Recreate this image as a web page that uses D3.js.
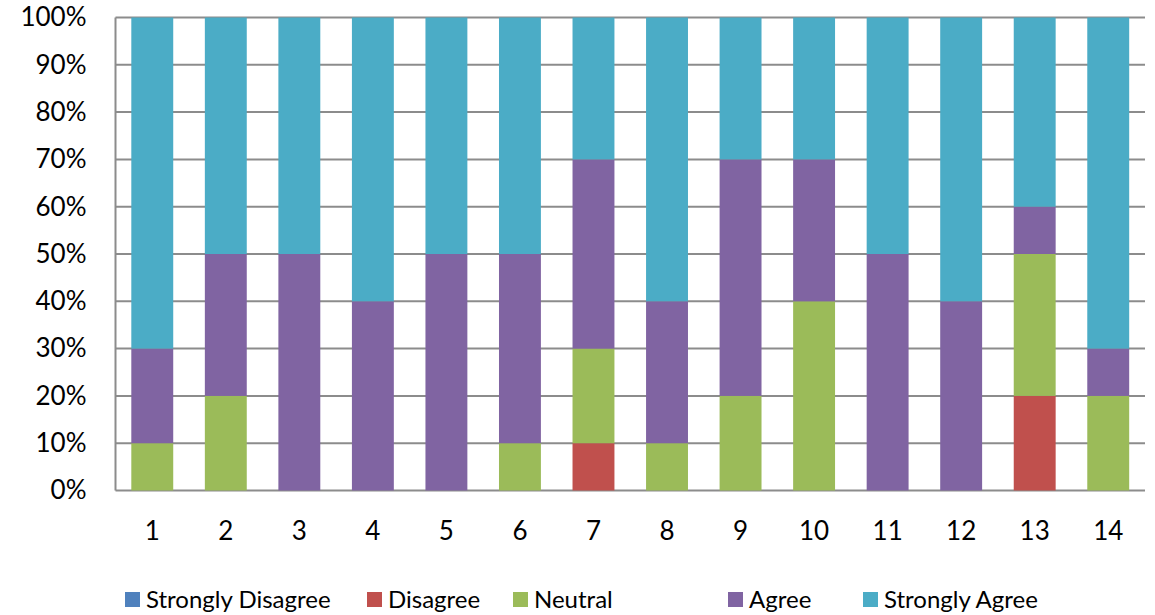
<!DOCTYPE html>
<html>
<head>
<meta charset="utf-8">
<script src="https://cdn.jsdelivr.net/npm/d3@7"></script>
<style>
  html, body { margin: 0; padding: 0; background: #fff; }
  svg text { font-family: Lato, "Open Sans", sans-serif; fill: #000; }
</style>
</head>
<body>
<svg id="chart" width="1155" height="615"></svg>
<script>
// Survey items 1..14, share of responses (percent) per answer level
const items = ["1","2","3","4","5","6","7","8","9","10","11","12","13","14"];
const seriesNames = ["Strongly Disagree", "Disagree", "Neutral", "Agree", "Strongly Agree"];
const stronglyDisagree = [0, 0, 0, 0, 0, 0, 0, 0, 0, 0, 0, 0, 0, 0];
const disagree         = [0, 0, 0, 0, 0, 0, 10, 0, 0, 0, 0, 0, 20, 0];
const neutral          = [10, 20, 0, 0, 0, 10, 20, 10, 20, 40, 0, 0, 30, 20];
const agree            = [20, 30, 50, 40, 50, 40, 40, 30, 50, 30, 50, 40, 10, 10];
const stronglyAgree    = [70, 50, 50, 60, 50, 50, 30, 60, 30, 30, 50, 60, 40, 70];
const yTicks = [0, 10, 20, 30, 40, 50, 60, 70, 80, 90, 100];
const colors = ["#4F81BD", "#C0504D", "#9BBB59", "#8064A2", "#4BACC6"];

const allSeries = [stronglyDisagree, disagree, neutral, agree, stronglyAgree];
const rows = items.map((it, i) => {
  const r = { item: it };
  seriesNames.forEach((s, k) => { r[s] = allSeries[k][i]; });
  return r;
});

const svg = d3.select("#chart");
const margin = { left: 115.5, right: 10, top: 17.5, bottom: 124.5 };
const W = 1155, H = 615;
const x = d3.scaleBand().domain(items).range([margin.left, W - margin.right]).paddingInner(0.43).paddingOuter(0.215);
const y = d3.scaleLinear().domain([0, 100]).range([H - margin.bottom, margin.top]);

// horizontal gridlines
svg.append("g").selectAll("line").data(yTicks).join("line")
  .attr("x1", margin.left).attr("x2", W - margin.right)
  .attr("y1", d => y(d)).attr("y2", d => y(d))
  .attr("stroke", "#8c8c8c").attr("stroke-width", 2);

// stacked bars
const stack = d3.stack().keys(seriesNames)(rows);
svg.append("g").selectAll("g").data(stack).join("g")
  .attr("fill", (d, i) => colors[i])
  .selectAll("rect").data(d => d.filter(p => p[1] - p[0] > 0)).join("rect")
  .attr("x", d => x(d.data.item))
  .attr("width", x.bandwidth())
  .attr("y", d => y(d[1]))
  .attr("height", d => y(d[0]) - y(d[1]));

// left axis line
svg.append("line")
  .attr("x1", margin.left).attr("x2", margin.left)
  .attr("y1", y(100)).attr("y2", y(0))
  .attr("stroke", "#8c8c8c").attr("stroke-width", 2);

// y-axis labels
const yAxis = d3.axisLeft(y).tickValues(yTicks).tickFormat(d => d + "%").tickSize(0).tickPadding(29);
const gy = svg.append("g").attr("transform", `translate(${margin.left},0)`).call(yAxis);
gy.select(".domain").remove();
gy.selectAll("text").attr("font-size", 26).attr("font-family", "Lato, sans-serif").attr("fill", "#000");

// x-axis labels
const xAxis = d3.axisBottom(x).tickSize(0).tickPadding(31);
const gx = svg.append("g").attr("transform", `translate(0,${y(0)})`).call(xAxis);
gx.select(".domain").remove();
gx.selectAll("text").attr("font-size", 26).attr("font-family", "Lato, sans-serif").attr("fill", "#000");

// legend
const legendX = [125, 367, 513, 728, 863];
const lg = svg.append("g").selectAll("g").data(seriesNames).join("g")
  .attr("transform", (d, i) => `translate(${legendX[i]},592)`);
lg.append("rect").attr("width", 15).attr("height", 15).attr("fill", (d, i) => colors[i]);
lg.append("text").attr("x", 21).attr("y", 7.5).attr("dy", "0.36em")
  .attr("font-size", 24).text(d => d);
</script>
</body>
</html>
